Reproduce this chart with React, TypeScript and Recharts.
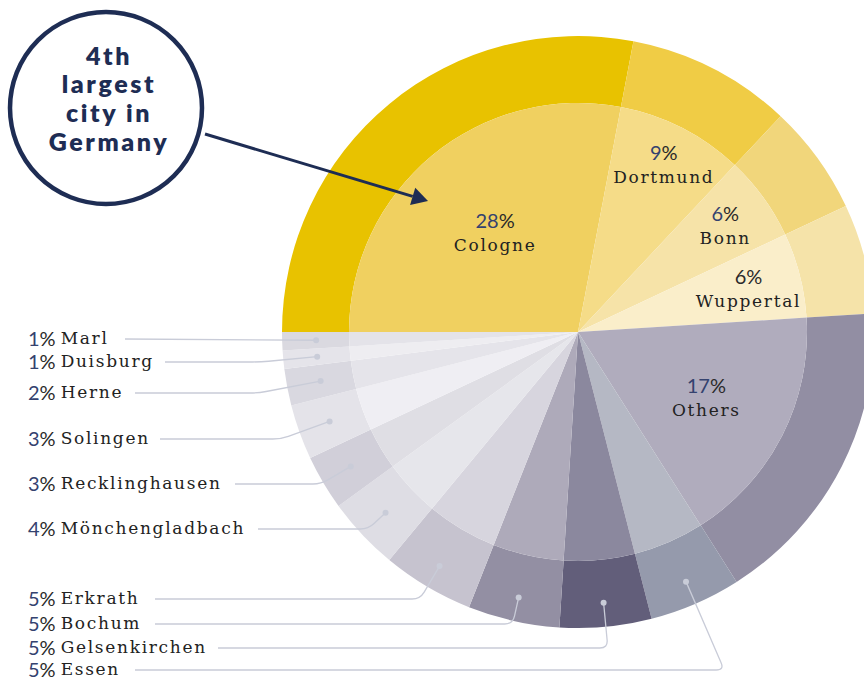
import { PieChart, Pie, Cell } from 'recharts';

const cities = [
  'Cologne', 'Dortmund', 'Bonn', 'Wuppertal', 'Others', 'Essen', 'Gelsenkirchen',
  'Bochum', 'Erkrath', 'Mönchengladbach', 'Recklinghausen', 'Solingen', 'Herne', 'Duisburg', 'Marl',
];
const shares = [28, 9, 6, 6, 17, 5, 5, 5, 5, 4, 3, 3, 2, 1, 1];

const outerColors = [
  '#E8C200', '#F0CC45', '#F1D67B', '#F5E3A9', '#928EA3', '#959AAC', '#625E7A',
  '#938FA3', '#C6C3CF', '#DEDDE4', '#D1CFD9', '#E4E3E9', '#D9D8E0', '#E5E4EA', '#DAD9E0',
];
const innerColors = [
  '#F0D060', '#F5DC88', '#F6E3A8', '#FAEECA', '#B0ACBD', '#B5B8C4', '#8B889E',
  '#AEAABA', '#D7D5DE', '#E6E6EB', '#DFDEE4', '#EFEEF3', '#E5E4EA', '#EEEDF1', '#E4E3E9',
];

const data = cities.map((name, i) => ({ name, value: shares[i] }));

// label layout (pixels)
const insideRadius: Record<string, number> = { Cologne: 130, Dortmund: 189, Bonn: 182, Wuppertal: 176, Others: 144 };
const outside: Record<string, { textY: number; lineX: number; dotR: number }> = {
  Marl: { textY: 338, lineX: 125, dotR: 262 },
  Duisburg: { textY: 361, lineX: 165, dotR: 262 },
  Herne: { textY: 392, lineX: 135, dotR: 262 },
  Solingen: { textY: 438, lineX: 160, dotR: 264 },
  Recklinghausen: { textY: 483, lineX: 235, dotR: 264 },
  'Mönchengladbach': { textY: 528, lineX: 258, dotR: 264 },
  Erkrath: { textY: 598, lineX: 155, dotR: 272 },
  Bochum: { textY: 623, lineX: 155, dotR: 272 },
  Gelsenkirchen: { textY: 647, lineX: 218, dotR: 272 },
  Essen: { textY: 669, lineX: 135, dotR: 272 },
};

const RAD = Math.PI / 180;
const NAVY = '#1E2D54';
const PCT = '#34426F';
const SERIF = '"DejaVu Serif", serif';
const SANS = 'Lato, "Open Sans", sans-serif';

function InnerLabel(props: any) {
  const { cx, cy, midAngle, name, value } = props;
  const r = insideRadius[name];
  if (!r) return <g />;
  const x = cx + r * Math.cos(-midAngle * RAD);
  const y = cy + r * Math.sin(-midAngle * RAD);
  return (
    <g>
      <text x={x} y={y - 12} textAnchor="middle" dominantBaseline="central" fontFamily={SANS} fontWeight={400} fontSize={20}>
        <tspan fill={name === 'Wuppertal' ? '#2A2A2A' : PCT}>{value}</tspan>
        <tspan fill="#2A2A2A">%</tspan>
      </text>
      <text x={x} y={y + 13} textAnchor="middle" dominantBaseline="central" fontFamily={SERIF} fontSize={17} letterSpacing={1.7} fill="#222">
        {name}
      </text>
    </g>
  );
}

function OuterLabel(props: any) {
  const { cx, cy, midAngle, name, value } = props;
  const cfg = outside[name];
  if (!cfg) return <g />;
  const ux = Math.cos(-midAngle * RAD);
  const uy = Math.sin(-midAngle * RAD);
  const dx = cx + cfg.dotR * ux;
  const dy = cy + cfg.dotR * uy;
  const lineY = cfg.textY + 1;
  let d: string;
  if (Math.abs(lineY - dy) < 3) {
    d = `M${cfg.lineX},${lineY} L${dx},${dy}`;
  } else {
    const t = (lineY - dy) / uy;
    const kx = dx + t * ux;
    const rr = Math.min(8, t / 2);
    d = `M${cfg.lineX},${lineY} L${kx - rr},${lineY} Q${kx},${lineY} ${kx - ux * rr},${lineY - uy * rr} L${dx},${dy}`;
  }
  return (
    <g>
      <path d={d} fill="none" stroke="#C9CCD8" strokeWidth={1.3} />
      <circle cx={dx} cy={dy} r={3} fill="#C9CCD8" />
      <text x={28} y={cfg.textY} dominantBaseline="central">
        <tspan fontFamily={SANS} fontWeight={400} fontSize={20} fill={PCT}>{value}</tspan>
        <tspan fontFamily={SANS} fontWeight={400} fontSize={20} fill="#2A2A2A">%</tspan>
        <tspan fontFamily={SERIF} fontSize={17} letterSpacing={1.7} fill="#222" dx={5}>{name}</tspan>
      </text>
    </g>
  );
}

function Callout() {
  const x1 = 205, y1 = 134, x2 = 428, y2 = 201;
  const a = Math.atan2(y2 - y1, x2 - x1);
  const len = 16, half = 9;
  const bx = x2 - len * Math.cos(a), by = y2 - len * Math.sin(a);
  const p1 = `${bx + half * Math.sin(a)},${by - half * Math.cos(a)}`;
  const p2 = `${bx - half * Math.sin(a)},${by + half * Math.cos(a)}`;
  const lines = ['4th', 'largest', 'city in', 'Germany'];
  const baselines = [65, 93, 122, 151];
  return (
    <svg width={864} height={682} style={{ position: 'absolute', left: 0, top: 0, pointerEvents: 'none' }}>
      <line x1={x1} y1={y1} x2={bx} y2={by} stroke={NAVY} strokeWidth={3} />
      <polygon points={`${x2},${y2} ${p1} ${p2}`} fill={NAVY} />
      <circle cx={106} cy={108} r={96} fill="#fff" stroke={NAVY} strokeWidth={4.5} />
      {lines.map((l, i) => (
        <text key={l} x={109} y={baselines[i]} textAnchor="middle" fontFamily={SANS} fontWeight={800} fontSize={25} letterSpacing={2.6} fill={NAVY}>
          {l}
        </text>
      ))}
    </svg>
  );
}

export default function App() {
  return (
    <div style={{ position: 'absolute', left: 0, top: 0, width: 864, height: 682, overflow: 'hidden', background: '#fff' }}>
      <PieChart width={864} height={682} margin={{ top: 0, right: 0, bottom: 0, left: 0 }}>
        <Pie
          data={data}
          dataKey="value"
          nameKey="name"
          cx={578}
          cy={332}
          innerRadius={229}
          outerRadius={296}
          startAngle={180}
          endAngle={-180}
          stroke="none"
          label={OuterLabel}
          labelLine={false}
          isAnimationActive={false}
        >
          {data.map((entry, index) => (
            <Cell key={`outer-${index}`} fill={outerColors[index]} />
          ))}
        </Pie>
        <Pie
          data={data}
          dataKey="value"
          nameKey="name"
          cx={578}
          cy={332}
          innerRadius={0}
          outerRadius={229}
          startAngle={180}
          endAngle={-180}
          stroke="none"
          label={InnerLabel}
          labelLine={false}
          isAnimationActive={false}
        >
          {data.map((entry, index) => (
            <Cell key={`inner-${index}`} fill={innerColors[index]} />
          ))}
        </Pie>
      </PieChart>
      <Callout />
    </div>
  );
}
